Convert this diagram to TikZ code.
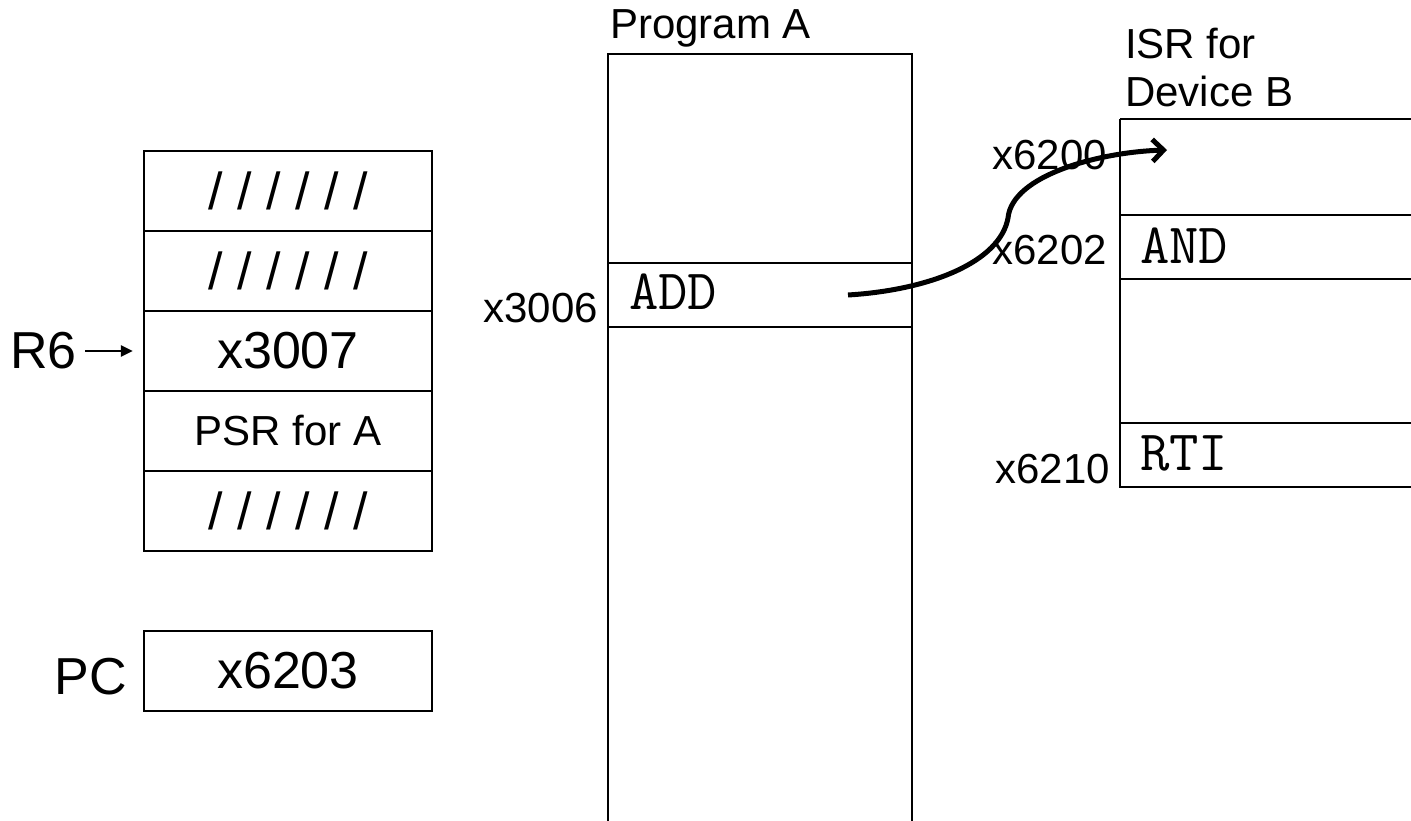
\documentclass[tikz,border=0pt]{standalone}
\usepackage{fontspec}
\setmainfont{Liberation Sans}
\usetikzlibrary{arrows.meta}
\begin{document}
\begin{tikzpicture}[x=1pt,y=-1pt,
  cell/.style={draw,line width=2.2pt,rectangle,inner sep=0pt,minimum width=288pt,minimum height=80pt,font=\fontsize{52}{60}\selectfont},
  lbl/.style={inner sep=0pt,font=\fontsize{52}{60}\selectfont},
  mid/.style={inner sep=0pt,anchor=base west,font=\fontsize{42}{48}\selectfont},
  addr/.style={inner sep=0pt,anchor=base east,font=\fontsize{42}{48}\selectfont},
  code/.style={inner sep=0pt,anchor=base west,font=\ttfamily\fontsize{57}{62}\selectfont},
  box/.style={draw,line width=2.2pt}]
\useasboundingbox (0,0) rectangle (1411,821);
\clip (0,0) rectangle (1411,821);
% stack
\node[cell] (s1) at (288,191) {/ / / / / /};
\node[cell] (s2) at (288,271) {/ / / / / /};
\node[cell] (s3) at (288,351) {x3007};
\node[cell,font=\fontsize{42}{48}\selectfont] (s4) at (288,431) {PSR for A};
\node[cell] (s5) at (288,511) {/ / / / / /};
\node[lbl,anchor=east] (r6) at (77,351) {R6};
\draw[line width=2.5pt,-{Triangle[length=12pt,width=11pt]}] ([xshift=8pt]r6.east) -- ([xshift=-10pt]s3.west);
% PC
\node[cell] (pc) at (288,671) {x6203};
\node[lbl,anchor=east] (pcl) at (127,677) {PC};
% Program A
\node[mid] (pa) at (610,39) {Program A};
\draw[box] (608,54) rectangle (912,263);
\draw[box] (608,263) rectangle (912,327);
\draw[box] (608,327) rectangle (912,840);
\node[code] (add) at (629,309) {ADD};
\node[addr] (a3006) at (598,322) {x3006};
% ISR
\node[mid] (isr1) at (1125,59) {ISR for};
\node[mid] (isr2) at (1125,107) {Device B};
\draw[box] (1120,119) -- (1420,119);
\draw[box] (1120,119) -- (1120,487) -- (1420,487);
\draw[box] (1120,215) -- (1420,215);
\draw[box] (1120,279) -- (1420,279);
\draw[box] (1120,423) -- (1420,423);
\node[code] (and) at (1140,263) {AND};
\node[code] (rti) at (1140,470) {RTI};
\node[addr] (a6200) at (1107,170) {x6200};
\node[addr] (a6202) at (1107,265) {x6202};
\node[addr] (a6210) at (1110,483) {x6210};
% curved arrow
\coordinate (cs) at (848,295);
\coordinate (cm) at (1008,218);
\coordinate (ce) at (1167,150);
\draw[line width=5pt,-{Straight Barb[length=11pt,width=22pt]}] (cs) .. controls (930,290) and (1000,262) .. (cm) .. controls (1012,175) and (1100,152) .. (ce);
\end{tikzpicture}
\end{document}
